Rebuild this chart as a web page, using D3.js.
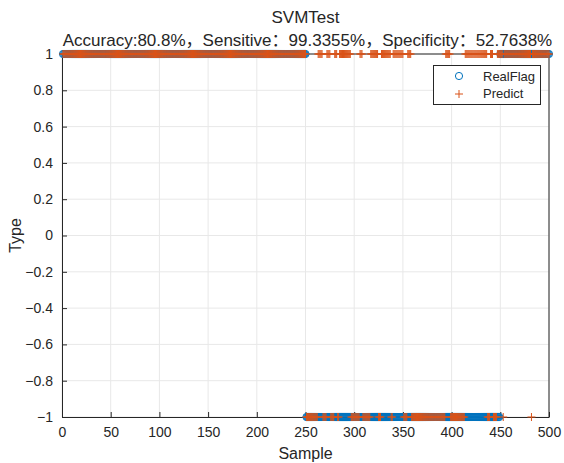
<!DOCTYPE html>
<html>
<head>
<meta charset="utf-8">
<script src="https://cdn.jsdelivr.net/npm/d3@7"></script>
<style>
  body { margin: 0; background: #fff; }
  svg text { font-family: "Liberation Sans", Arial, "Noto Sans CJK SC", sans-serif; fill: #262626; }
</style>
</head>
<body>
<svg id="chart"></svg>
<script>
// ---------------- data ----------------
const sampleCount = 500;
// true label runs: [first sample, last sample, value]
const realRuns = [[1, 250, 1], [251, 449, -1], [450, 500, 1]];
// runs of samples where the prediction is -1 (everything else predicted 1)
const predictNegRuns = [
  [251, 262], [268, 271], [276, 279], [283, 284], [297, 305], [309, 316],
  [325, 327], [338, 339], [351, 354], [359, 393], [399, 413], [437, 439],
  [443, 446], [453, 453], [482, 482]
];
const xTicks = [0, 50, 100, 150, 200, 250, 300, 350, 400, 450, 500];
const yTicks = [-1, -0.8, -0.6, -0.4, -0.2, 0, 0.2, 0.4, 0.6, 0.8, 1];
const titleText = "SVMTest";
const subText = "Accuracy:80.8%，Sensitive：99.3355%，Specificity：52.7638%";

// expand runs into one value per sample
const samples = d3.range(1, sampleCount + 1);
const realFlag = samples.map(s => realRuns.find(r => s >= r[0] && s <= r[1])[2]);
const predict = samples.map(s => predictNegRuns.some(r => s >= r[0] && s <= r[1]) ? -1 : 1);

// ---------------- layout ----------------
const width = 564, height = 463;
const plotL = 62, plotR = 549, plotT = 54, plotB = 417;
const blue = "#0072BD", orange = "#D95319";

const svg = d3.select("#chart").attr("width", width).attr("height", height);

const x = d3.scaleLinear().domain([0, 500]).range([plotL, plotR]);
const y = d3.scaleLinear().domain([-1, 1]).range([plotB, plotT]);

// grid
const grid = svg.append("g").attr("stroke", "#e8e8e8").attr("stroke-width", 1);
xTicks.forEach(t => {
  grid.append("line").attr("x1", x(t)).attr("x2", x(t)).attr("y1", plotT).attr("y2", plotB);
});
yTicks.forEach(t => {
  grid.append("line").attr("x1", plotL).attr("x2", plotR).attr("y1", y(t)).attr("y2", y(t));
});

// axes (MATLAB style box, inward ticks)
const xAxis = svg.append("g").attr("transform", "translate(0," + plotB + ")")
  .call(d3.axisBottom(x).tickValues(xTicks).tickSizeInner(-5).tickSizeOuter(0).tickPadding(10));
const yAxis = svg.append("g").attr("transform", "translate(" + plotL + ",0)")
  .call(d3.axisLeft(y).tickValues(yTicks).tickSizeInner(-5).tickSizeOuter(0).tickPadding(9)
    .tickFormat(d => d3.format("")(+d.toFixed(1))));
[xAxis, yAxis].forEach(a => {
  a.selectAll("path").attr("stroke", "#262626");
  a.selectAll("line").attr("stroke", "#262626");
  a.selectAll("text").attr("font-size", 14).attr("fill", "#262626")
    .style("font-family", "'Liberation Sans', Arial, sans-serif");
});
// top and right edges of the box
svg.append("line").attr("x1", plotL).attr("x2", plotR).attr("y1", plotT).attr("y2", plotT)
  .attr("stroke", "#262626");
svg.append("line").attr("x1", plotR).attr("x2", plotR).attr("y1", plotT).attr("y2", plotB)
  .attr("stroke", "#262626");

// RealFlag circles
svg.append("g")
  .selectAll("circle")
  .data(samples)
  .join("circle")
  .attr("cx", (d, i) => x(d))
  .attr("cy", (d, i) => y(realFlag[i]))
  .attr("r", 3.6)
  .attr("fill", "none")
  .attr("stroke", blue)
  .attr("stroke-width", 1);

// Predict plus markers
const plusSize = 4;
svg.append("g")
  .selectAll("path")
  .data(samples)
  .join("path")
  .attr("d", (d, i) => {
    const cx = x(d), cy = y(predict[i]);
    return "M" + (cx - plusSize) + "," + cy + "H" + (cx + plusSize) +
           "M" + cx + "," + (cy - plusSize) + "V" + (cy + plusSize);
  })
  .attr("stroke", orange)
  .attr("stroke-width", 1)
  .attr("fill", "none");

// titles
svg.append("text").attr("x", (plotL + plotR) / 2).attr("y", 23)
  .attr("text-anchor", "middle").attr("font-size", 17).text(titleText);
svg.append("text").attr("x", (plotL + plotR) / 2 + 2).attr("y", 46)
  .attr("text-anchor", "middle").attr("font-size", 17).text(subText);

// axis labels
svg.append("text").attr("x", (plotL + plotR) / 2).attr("y", 459)
  .attr("text-anchor", "middle").attr("font-size", 16).text("Sample");
svg.append("text").attr("transform", "translate(21," + ((plotT + plotB) / 2) + ") rotate(-90)")
  .attr("text-anchor", "middle").attr("font-size", 16).text("Type");

// legend
const legend = svg.append("g");
legend.append("rect").attr("x", 433.5).attr("y", 65.5).attr("width", 107).attr("height", 39)
  .attr("fill", "#fff").attr("stroke", "#262626").attr("stroke-width", 1);
legend.append("circle").attr("cx", 459).attr("cy", 76).attr("r", 3.6)
  .attr("fill", "none").attr("stroke", blue);
legend.append("path").attr("d", "M455,94H463M459,90V98").attr("stroke", orange);
legend.append("text").attr("x", 483).attr("y", 81).attr("font-size", 13).text("RealFlag");
legend.append("text").attr("x", 483).attr("y", 98).attr("font-size", 13).text("Predict");
</script>
</body>
</html>
